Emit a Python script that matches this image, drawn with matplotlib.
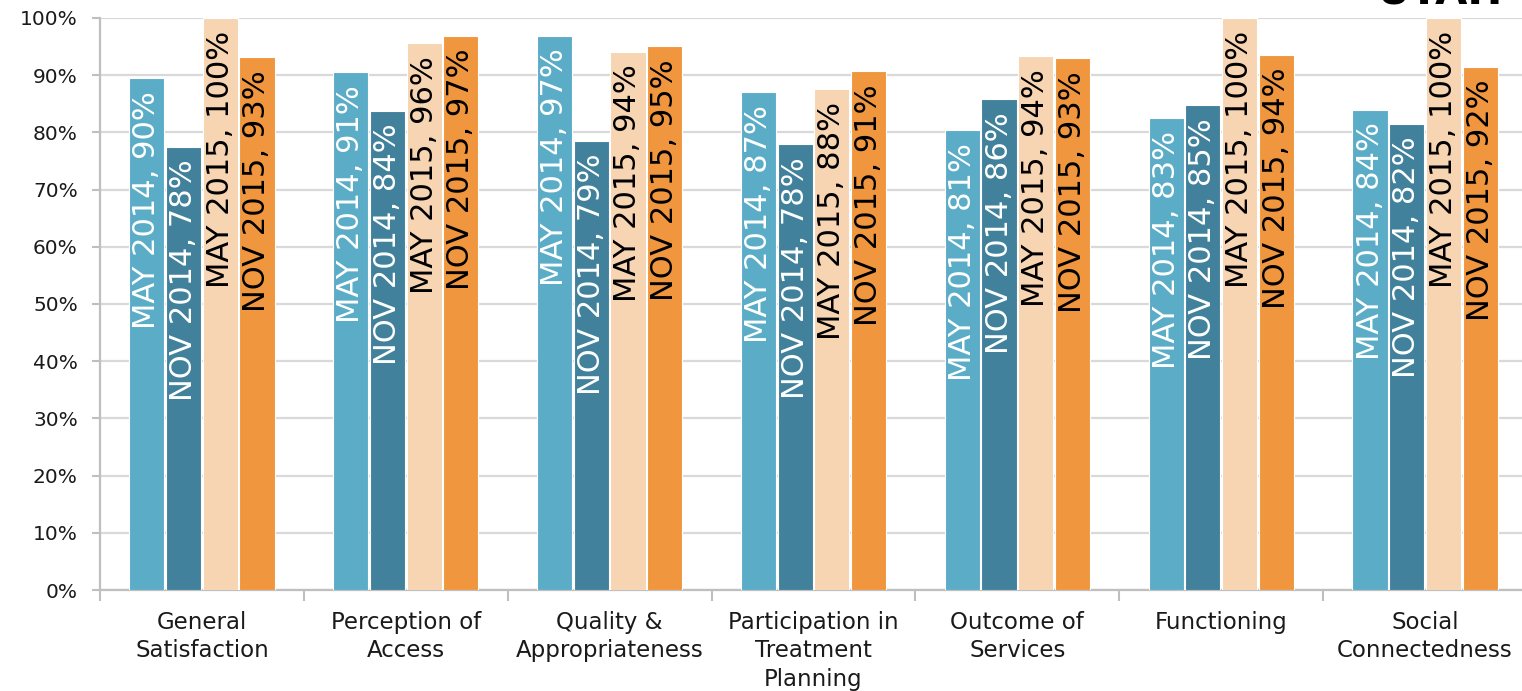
import matplotlib
matplotlib.use("Agg")
import matplotlib.pyplot as plt
import numpy as np

categories = ["General\nSatisfaction", "Perception of\nAccess", "Quality &\nAppropriateness",
              "Participation in\nTreatment\nPlanning", "Outcome of\nServices", "Functioning",
              "Social\nConnectedness"]
series_names = ["MAY 2014", "NOV 2014", "MAY 2015", "NOV 2015"]
may_2014 = [89.5, 90.5, 96.9, 87.1, 80.4, 82.6, 84.0]
nov_2014 = [77.5, 83.8, 78.5, 77.9, 85.8, 84.8, 81.5]
may_2015 = [100.0, 95.6, 94.1, 87.5, 93.4, 100.0, 100.0]
nov_2015 = [93.1, 96.9, 95.1, 90.7, 93.0, 93.6, 91.5]
label_may_2014 = [90, 91, 97, 87, 81, 83, 84]
label_nov_2014 = [78, 84, 79, 78, 86, 85, 82]
label_may_2015 = [100, 96, 94, 88, 94, 100, 100]
label_nov_2015 = [93, 97, 95, 91, 93, 94, 92]
yticks = [0, 10, 20, 30, 40, 50, 60, 70, 80, 90, 100]

series = [may_2014, nov_2014, may_2015, nov_2015]
labels = [label_may_2014, label_nov_2014, label_may_2015, label_nov_2015]
colors = ["#5BACC7", "#41819B", "#F7D4B2", "#F0963E"]
text_colors = ["white", "white", "black", "black"]

plt.rcParams['font.family'] = ['DejaVu Sans']
W, H = 1522, 691
fig = plt.figure(figsize=(W / 100, H / 100), dpi=100)
ax = fig.add_axes([100 / W, 1 - 590 / H, 1427 / W, 572 / H])

x = np.arange(len(categories))
step = 0.18
width = 0.172
for i, (vals, labs) in enumerate(zip(series, labels)):
    xs = x + (i - 1.5) * step
    ax.bar(xs, vals, width=width, color=colors[i], edgecolor="white", linewidth=0.8, zorder=3)
    for xi, v, lab in zip(xs, vals, labs):
        ax.annotate(f"{series_names[i]}, {lab}%", xy=(xi, v), xytext=(0, -13),
                    textcoords="offset pixels", rotation=90, ha="center", va="top",
                    color=text_colors[i], fontsize=22, zorder=4)

ax.set_xlim(-0.5, len(categories) - 0.5)
ax.set_ylim(0, 100)
ax.set_yticks(yticks)
ax.set_yticklabels([f"{t}%" for t in yticks], fontsize=14.5, color="#1a1a1a")
ax.yaxis.grid(True, color="#D9D9D9", linewidth=1.6, zorder=0)
ax.set_axisbelow(True)

ax.set_xticks(x)
ax.set_xticklabels(categories, fontsize=16.5, color="#1a1a1a", linespacing=1.3)
ax.set_xticks(np.arange(len(categories) + 1) - 0.5, minor=True)
ax.tick_params(axis="x", which="major", length=0, pad=15)
ax.tick_params(axis="x", which="minor", length=8, width=1.5, color="#BFBFBF", direction="out")
ax.tick_params(axis="y", length=6, width=1.5, color="#BFBFBF", pad=10)

for s in ["top", "right"]:
    ax.spines[s].set_visible(False)
for s in ["left", "bottom"]:
    ax.spines[s].set_color("#BFBFBF")
    ax.spines[s].set_linewidth(1.6)

fig.text(1502 / W, 1 - 3 / H, "UTAH", ha="right", va="baseline", fontsize=30,
         fontweight="bold", color="black")

fig.savefig("out.png", dpi=100)
